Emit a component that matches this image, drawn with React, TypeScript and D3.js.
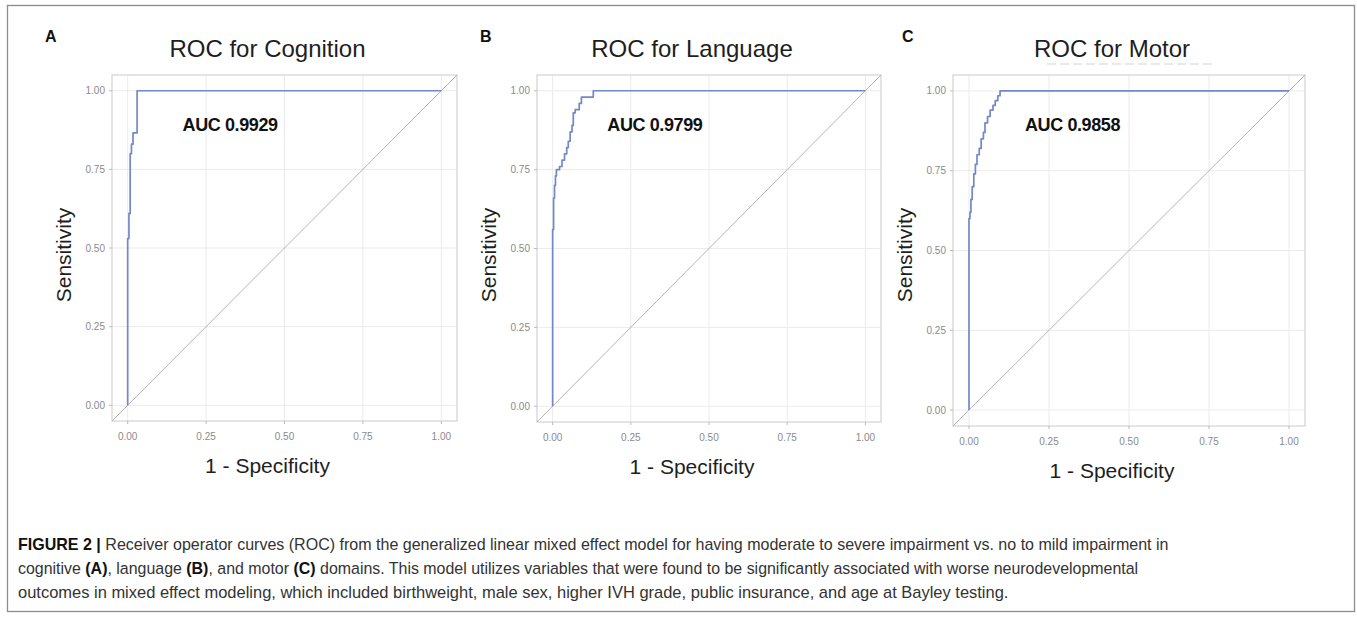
import React, { useLayoutEffect, useRef, useState } from "react";
import * as d3 from "d3";

// chart values
const panelLetters = ["A", "B", "C"];
const panelTitles = ["ROC for Cognition", "ROC for Language", "ROC for Motor"];
const aucLabels = ["AUC 0.9929", "AUC 0.9799", "AUC 0.9858"];
const tickValues = [0, 0.25, 0.5, 0.75, 1];
const tickLabels = ["0.00", "0.25", "0.50", "0.75", "1.00"];
const xAxisLabel = "1 - Specificity";
const yAxisLabel = "Sensitivity";

// each point is the top of a vertical run of the ROC step curve
const cognitionFpr = [0, 0, 0.004, 0.008, 0.012, 0.017, 0.03, 1];
const cognitionTpr = [0, 0.53, 0.61, 0.8, 0.83, 0.866, 1, 1];

const languageFpr = [0, 0, 0.003, 0.006, 0.009, 0.012, 0.022, 0.03, 0.038, 0.045, 0.05, 0.056, 0.062, 0.066, 0.072, 0.085, 0.092, 0.13, 1];
const languageTpr = [0, 0.56, 0.66, 0.7, 0.73, 0.75, 0.76, 0.78, 0.8, 0.82, 0.84, 0.87, 0.89, 0.93, 0.94, 0.96, 0.98, 1, 1];

const motorFpr = [0, 0, 0.003, 0.006, 0.01, 0.015, 0.02, 0.025, 0.032, 0.038, 0.045, 0.05, 0.058, 0.066, 0.075, 0.082, 0.09, 0.097, 1];
const motorTpr = [0, 0.6, 0.62, 0.66, 0.7, 0.74, 0.77, 0.8, 0.82, 0.85, 0.87, 0.9, 0.92, 0.94, 0.955, 0.97, 0.985, 1, 1];

const captionLines: [string, boolean][][] = [
  [["FIGURE 2 |", true], [" Receiver operator curves (ROC) from the generalized linear mixed effect model for having moderate to severe impairment vs. no to mild impairment in", false]],
  [["cognitive ", false], ["(A)", true], [", language ", false], ["(B)", true], [", and motor ", false], ["(C)", true], [" domains. This model utilizes variables that were found to be significantly associated with worse neurodevelopmental", false]],
  [["outcomes in mixed effect modeling, which included birthweight, male sex, higher IVH grade, public insurance, and age at Bayley testing.", false]],
];

// layout
const W = 1357;
const H = 618;
const FONT = "'Liberation Sans', Arial, Helvetica, sans-serif";
const boxes = [
  { left: 112, right: 457, top: 75, bottom: 421, letterX: 45 },
  { left: 537, right: 881, top: 75, bottom: 422, letterX: 480 },
  { left: 953, right: 1305, top: 75, bottom: 426, letterX: 902 },
];
const captionX = 18;
const captionEnds = [1168, 1138, 1008];

function RocPanel({ idx, fpr, tpr }: { idx: number; fpr: number[]; tpr: number[] }) {
  const b = boxes[idx];
  const x = d3.scaleLinear().domain([-0.05, 1.05]).range([b.left, b.right]);
  const y = d3.scaleLinear().domain([-0.05, 1.05]).range([b.bottom, b.top]);
  const pts = fpr.map((f, k) => [f, tpr[k]] as [number, number]);
  const curve = d3
    .line<[number, number]>()
    .x((d) => x(d[0]))
    .y((d) => y(d[1]))
    .curve(d3.curveStepAfter)(pts);
  const diag = d3
    .line<number>()
    .x((d) => x(d))
    .y((d) => y(d))([-0.05, 1.05]);
  const cx = (b.left + b.right) / 2 - 17;

  return (
    <g>
      <text x={b.letterX} y={42} fontSize={16} fontWeight="bold" fill="#111" fontFamily={FONT}>
        {panelLetters[idx]}
      </text>
      <text x={cx} y={57} fontSize={24} textAnchor="middle" fill="#1e1e1e" fontFamily={FONT}>
        {panelTitles[idx]}
      </text>
      {/* grid */}
      {tickValues.map((t) => (
        <g key={"g" + t}>
          <line x1={x(t)} x2={x(t)} y1={b.top} y2={b.bottom} stroke="#ebebeb" strokeWidth={1} />
          <line x1={b.left} x2={b.right} y1={y(t)} y2={y(t)} stroke="#ebebeb" strokeWidth={1} />
        </g>
      ))}
      <rect x={b.left} y={b.top} width={b.right - b.left} height={b.bottom - b.top} fill="none" stroke="#d2d2d2" strokeWidth={1.2} />
      {/* ticks */}
      {tickValues.map((t, k) => (
        <g key={"t" + t} fontFamily={FONT} fontSize={10} fill="#8a8a8a">
          <line x1={x(t)} x2={x(t)} y1={b.bottom} y2={b.bottom + 3} stroke="#bbb" />
          <text x={x(t)} y={b.bottom + 19} textAnchor="middle">{tickLabels[k]}</text>
          <line x1={b.left - 3} x2={b.left} y1={y(t)} y2={y(t)} stroke="#bbb" />
          <text x={b.left - 7} y={y(t) + 3.5} textAnchor="end">{tickLabels[k]}</text>
        </g>
      ))}
      <path d={diag ?? ""} fill="none" stroke="#b4b4b4" strokeWidth={1} />
      <path d={curve ?? ""} fill="none" stroke="#7388c6" strokeWidth={1.7} strokeLinejoin="round" />
      <text x={x(0.175)} y={y(0.873)} fontSize={18} fontWeight="bold" fill="#111" letterSpacing={-0.4} fontFamily={FONT}>
        {aucLabels[idx]}
      </text>
      <text x={cx} y={b.bottom + 52} fontSize={21} textAnchor="middle" fill="#1e1e1e" fontFamily={FONT}>
        {xAxisLabel}
      </text>
      <text
        transform={`translate(${b.left - 41.5}, ${255}) rotate(-90)`}
        fontSize={21}
        textAnchor="middle"
        fill="#1e1e1e"
        fontFamily={FONT}
      >
        {yAxisLabel}
      </text>
    </g>
  );
}

function CaptionLine({ li }: { li: number }) {
  const ref = useRef<SVGTextElement>(null);
  const [sx, setSx] = useState(0.89);
  useLayoutEffect(() => {
    if (!ref.current) return;
    const len = ref.current.getComputedTextLength();
    if (len > 0) setSx((captionEnds[li] - captionX) / len);
  }, [li]);
  return (
    <g transform={`translate(${captionX}, ${550 + li * 24}) scale(${sx}, 1)`}>
      <text ref={ref} x={0} y={0} fontSize={17} fill="#333" fontFamily={FONT}>
        {captionLines[li].map((seg, si) => (
          <tspan key={si} fontWeight={seg[1] ? "bold" : "normal"} fill={seg[1] ? "#111" : "#333"}>
            {seg[0]}
          </tspan>
        ))}
      </text>
    </g>
  );
}

export default function App() {
  const series = [
    [cognitionFpr, cognitionTpr],
    [languageFpr, languageTpr],
    [motorFpr, motorTpr],
  ];
  return (
    <svg width={W} height={H} style={{ position: "absolute", left: 0, top: 0, background: "#fff" }}>
      <rect x={0} y={0} width={W} height={H} fill="#fff" />
      <rect x={7.5} y={5.5} width={1347} height={606} fill="none" stroke="#8c8c8c" strokeWidth={1.3} />
      {series.map((s, i) => (
        <RocPanel key={i} idx={i} fpr={s[0]} tpr={s[1]} />
      ))}
      {/* faint remnant of a cropped subtitle under the Motor title */}
      <line x1={1047} x2={1212} y1={64} y2={64} stroke="#e2e2e2" strokeWidth={1.5} strokeDasharray="9 4" />
      {captionLines.map((_, li) => (
        <CaptionLine key={li} li={li} />
      ))}
    </svg>
  );
}
